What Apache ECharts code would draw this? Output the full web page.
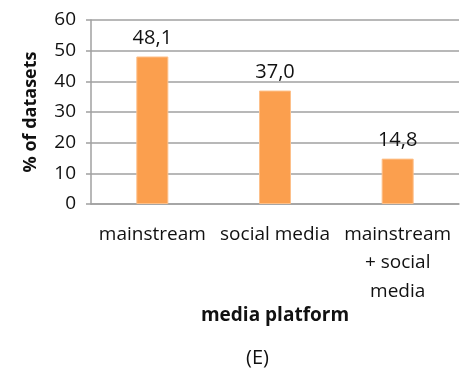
<!DOCTYPE html>
<html>
<head>
<meta charset="utf-8">
<script src="https://cdn.jsdelivr.net/npm/echarts@6/dist/echarts.min.js"></script>
<style>
  html, body { margin: 0; padding: 0; background: #fff; }
  #chart { width: 467px; height: 377px; }
</style>
</head>
<body>
<div id="chart"></div>
<script>
// Share of datasets per media platform
const categories = ['mainstream', 'social media', 'mainstream\n+ social\nmedia'];
const shares = [48.1, 37.0, 14.8];
const yTicks = { min: 0, max: 60, interval: 10 };

const FONT = 'Open Sans';
const chart = echarts.init(document.getElementById('chart'));

chart.setOption({
  animation: false,
  grid: { left: 91, right: 8, top: 20, bottom: 173 },
  xAxis: {
    type: 'category',
    data: categories,
    axisTick: { show: false },
    axisLine: { lineStyle: { color: '#a0a0a0', width: 1.5 } },
    axisLabel: {
      color: '#111', fontFamily: FONT, fontSize: 19, margin: 16,
      lineHeight: 28.5, interval: 0
    },
    name: 'media platform',
    nameLocation: 'middle',
    nameGap: 100,
    nameTextStyle: { color: '#111', fontFamily: FONT, fontSize: 19, fontWeight: 'bold' }
  },
  yAxis: {
    type: 'value',
    min: yTicks.min, max: yTicks.max, interval: yTicks.interval,
    axisLine: { show: true, lineStyle: { color: '#a0a0a0', width: 1.5 } },
    axisTick: { show: true, length: 5, lineStyle: { color: '#a0a0a0', width: 1.5 } },
    splitLine: { lineStyle: { color: '#a0a0a0', width: 1.5 } },
    axisLabel: { color: '#111', fontFamily: FONT, fontSize: 19, margin: 15 },
    name: '% of datasets',
    nameLocation: 'middle',
    nameGap: 51,
    nameTextStyle: { color: '#111', fontFamily: FONT, fontSize: 18, fontWeight: 'bold' }
  },
  series: [{
    type: 'bar',
    data: shares,
    barWidth: 32,
    itemStyle: { color: '#fb9f4e', borderColor: '#fdc08a', borderWidth: 1 },
    label: {
      show: true, position: 'top', distance: 8,
      color: '#111', fontFamily: FONT, fontSize: 20,
      formatter: p => p.value.toFixed(1).replace('.', ',')
    }
  }],
  graphic: [{
    type: 'text',
    left: 246,
    top: 348,
    style: { text: '(E)', fill: '#111', fontFamily: FONT, fontSize: 20 }
  }]
});
</script>
</body>
</html>
